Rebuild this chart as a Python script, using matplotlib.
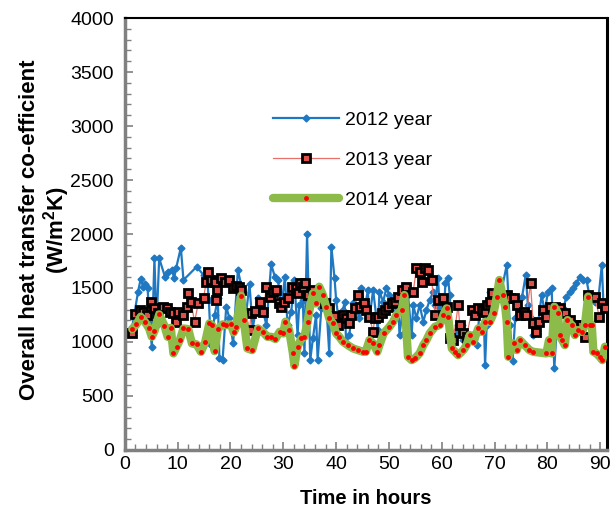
import numpy as np
import matplotlib
matplotlib.use("Agg")
import matplotlib.pyplot as plt
from matplotlib.ticker import MultipleLocator

plt.rcParams['font.family'] = ['Liberation Sans', 'DejaVu Sans']
plt.rcParams['mathtext.fontset'] = 'custom'
plt.rcParams['mathtext.rm'] = 'Liberation Sans'
plt.rcParams['mathtext.bf'] = 'Liberation Sans:bold'

# 2012 year (hours, W/m2K)
h2012 = [1.4, 2.5, 3.0, 3.5, 3.9, 4.3, 4.7, 5.1, 5.6, 6.0, 6.5, 7.6, 8.2, 9.0, 9.3, 9.7,
         10.6, 11.1, 13.6, 14.9, 15.5, 15.9, 16.3, 17.0, 17.6, 17.9, 18.5, 19.2, 19.8, 20.5,
         21.4, 22.3, 23.0, 23.6, 24.2, 25.2, 26.1, 26.8, 27.7, 28.4, 29.0, 29.6, 30.3, 30.8,
         31.5, 32.1, 32.7, 33.0, 33.7, 34.0, 34.5, 35.1, 35.6, 36.2, 36.5, 37.2, 38.1, 38.7,
         39.1, 39.7, 40.0, 40.6, 41.3, 41.6, 41.9, 42.5, 43.2, 43.8, 44.4, 44.8, 45.4, 46.0,
         46.3, 47.0, 47.9, 48.2, 48.9, 49.5, 50.1, 50.8, 51.1, 51.7, 52.0, 52.7, 53.0, 53.6,
         54.3, 54.6, 55.2, 55.8, 56.5, 57.1, 57.7, 58.4, 58.7, 59.3, 59.6, 60.3, 60.7, 61.2,
         61.5, 61.9, 62.5, 63.1, 63.8, 64.1, 64.7, 65.7, 66.6, 67.2, 67.9, 68.2, 68.5, 69.1,
         69.8, 71.0, 72.3, 72.9, 73.4, 73.9, 74.5, 75.2, 75.9, 76.3, 76.8, 77.3, 78.2, 78.9,
         79.5, 80.1, 80.8, 81.3, 82.0, 83.0, 83.6, 84.2, 84.9, 85.5, 86.1, 86.8, 87.4, 88.0,
         89.0, 89.6, 90.3, 90.6]
u2012 = [1141, 1466, 1583, 1512, 1535, 1497, 1188, 956, 1775, 1157, 1775, 1604, 1651, 1666, 1589, 1682,
         1873, 1574, 1697, 1620, 1635, 1388, 971, 1250, 1404, 848, 832, 1327, 1218, 987,
         1666, 1466, 1280, 1535, 1125, 1404, 1296, 1157, 1719, 1604, 1574, 1311, 1600, 1157,
         1280, 1574, 1064, 1342, 1388, 894, 1997, 832, 1033, 1250, 832, 1311, 1373, 894,
         1880, 1589, 1388, 1157, 1296, 1373, 987, 1064, 1357, 1311, 1218, 1497, 1300, 1481,
         1218, 1481, 1110, 1466, 1373, 1497, 1435, 1342, 1218, 1404, 1064, 1342, 1094, 1435,
         1064, 1342, 1218, 1342, 1188, 1296, 1388, 1466, 1342, 1589, 1311, 1218, 1543, 1589,
         1435, 1033, 1094, 1157, 1157, 1017, 1033, 1064, 971, 1296, 1342, 785, 1157, 1466,
         1373, 1404, 1713, 1157, 824, 1218, 1311, 1419, 1620, 1342, 1218, 1064, 1157, 1435,
         1280, 1466, 1497, 755, 1311, 1311, 1419, 1466, 1497, 1543, 1604, 1574, 1574, 1419,
         1373, 1373, 1713, 1357]

# 2013 year
h2013 = [1.4, 1.9, 2.8, 3.5, 4.1, 4.9, 5.6, 6.3, 7.3, 7.9, 8.5, 9.2, 9.6, 10.1, 11.1, 11.7,
         12.0, 12.5, 13.2, 13.9, 14.9, 15.4, 15.8, 16.3, 17.0, 17.3, 17.5, 18.2, 19.0, 19.8,
         20.5, 21.1, 21.7, 22.0, 23.6, 23.9, 24.6, 25.5, 26.2, 26.8, 27.4, 28.0, 28.7, 29.1,
         29.6, 30.2, 30.8, 31.6, 32.4, 32.7, 33.2, 33.7, 34.1, 34.6, 35.6, 36.5, 37.8, 38.7,
         39.6, 40.3, 41.3, 41.9, 42.5, 42.9, 43.5, 44.1, 44.6, 45.3, 45.7, 46.3, 47.0, 47.3,
         47.9, 48.6, 49.2, 49.8, 50.5, 51.1, 51.7, 52.4, 53.3, 54.6, 55.2, 55.8, 56.3, 56.8,
         57.4, 58.1, 58.7, 59.3, 60.3, 60.9, 61.5, 62.2, 63.1, 63.4, 64.1, 64.7, 65.7, 66.3,
         66.9, 67.6, 68.1, 68.5, 69.1, 69.5, 71.4, 72.3, 72.9, 73.6, 74.2, 74.8, 75.5, 76.0,
         76.8, 77.3, 77.9, 78.5, 79.2, 79.8, 80.4, 81.4, 82.3, 83.3, 84.2, 85.2, 86.3, 87.2,
         87.7, 89.0, 89.8, 90.4, 90.9]
u2013 = [1079, 1255, 1296, 1274, 1250, 1367, 1311, 1265, 1327, 1318, 1280, 1265, 1188, 1274, 1250, 1327,
         1450, 1373, 1188, 1357, 1404, 1558, 1651, 1574, 1558, 1388, 1481, 1589, 1558, 1574,
         1497, 1521, 1512, 1481, 1110, 1265, 1287, 1367, 1274, 1512, 1420, 1466, 1481, 1357,
         1327, 1370, 1404, 1512, 1497, 1450, 1543, 1512, 1543, 1435, 1481, 1435, 1357, 1311,
         1243, 1156, 1250, 1218, 1172, 1250, 1311, 1435, 1327, 1365, 1296, 1234, 1094, 1218,
         1234, 1265, 1296, 1327, 1357, 1373, 1419, 1481, 1512, 1466, 1682, 1651, 1558, 1682,
         1666, 1574, 1250, 1388, 1404, 1327, 1033, 1017, 1342, 1157, 1079, 1048, 1296, 1250,
         1311, 1296, 1280, 1342, 1373, 1450, 1419, 1435, 1404, 1404, 1342, 1250, 1280, 1250,
         1543, 1172, 1094, 1188, 1296, 1234, 1327, 1327, 1318, 1265, 1203, 1156, 1156, 1048,
         1435, 1419, 1234, 1357, 1311]

# 2014 year
h2014 = [1.4, 2.2, 3.0, 3.8, 4.6, 5.1, 5.6, 6.5, 7.5, 8.1, 8.7, 9.2, 9.8, 10.4, 11.1, 12.0,
         12.7, 13.6, 14.4, 15.2, 16.0, 16.5, 17.0, 17.6, 18.5, 19.2, 20.1, 20.6, 21.1, 22.0,
         22.5, 23.2, 24.1, 25.2, 26.1, 27.0, 27.7, 28.5, 29.3, 30.0, 30.4, 31.1, 31.8, 32.1,
         32.7, 33.4, 34.0, 34.6, 34.9, 35.6, 36.2, 36.8, 37.5, 38.1, 38.7, 39.4, 40.0, 40.6,
         41.3, 42.2, 43.2, 44.1, 45.1, 45.6, 46.3, 47.0, 47.8, 48.2, 49.0, 50.1, 50.8, 51.4,
         52.4, 52.9, 53.6, 54.3, 54.9, 55.8, 56.5, 57.1, 57.7, 58.7, 59.6, 60.3, 60.9, 61.2,
         61.9, 62.5, 63.1, 64.1, 64.7, 65.3, 66.0, 66.9, 67.6, 68.2, 69.1, 69.8, 70.4, 70.9,
         71.5, 72.0, 72.3, 72.6, 73.6, 74.2, 74.8, 75.7, 76.6, 77.3, 79.8, 80.3, 80.8, 81.3,
         82.0, 82.3, 82.8, 83.3, 83.8, 84.6, 85.2, 85.8, 86.5, 87.1, 87.7, 88.0, 88.4, 88.7,
         89.3, 89.9, 90.4, 90.9]
u2014 = [1119, 1163, 1234, 1187, 1125, 1048, 1100, 1255, 1150, 1048, 1131, 894, 956, 1017, 1125, 1119,
         987, 977, 909, 996, 1172, 1157, 915, 1119, 1163, 1156, 1163, 1088, 1141, 1428,
         1203, 940, 925, 1125, 1094, 1048, 1048, 1027, 1094, 1079, 1188, 1110, 900, 780,
         956, 1033, 1048, 1188, 1280, 1450, 1357, 1512, 1435, 1327, 1218, 1172, 1079, 1048,
         1002, 971, 940, 925, 909, 909, 1017, 987, 909, 971, 1080, 1141, 1188, 1250,
         1296, 1435, 863, 832, 848, 894, 971, 1017, 1079, 1141, 1157, 1250, 1311, 1234,
         940, 909, 878, 925, 971, 1064, 1002, 1125, 1094, 1187, 1187, 1265, 1420, 1574,
         1435, 1327, 1188, 863, 987, 925, 1017, 971, 925, 909, 894, 1017, 894, 1327,
         1265, 1064, 1017, 971, 1203, 1156, 1064, 1110, 1094, 1156, 1420, 1156, 1156, 909,
         894, 863, 832, 956]

fig = plt.figure(figsize=(6.12, 5.16), dpi=100)
ax = fig.add_axes([0.204, 0.128, 0.788, 0.837])

ax.plot(h2012, u2012, color='#1f78c1', lw=1.6, marker='D', ms=3.5,
        label='2012 year', zorder=2)
ax.plot(h2013, u2013, color='#e8706a', lw=0.9, marker='s', ms=5.5,
        mfc='#e0504a', mec='black', mew=2.0, label='2013 year', zorder=3)
ax.plot(h2014, u2014, color='#8dbb4a', lw=6, marker='o', ms=3.5,
        mfc='red', mec='red', mew=0, solid_capstyle='round',
        solid_joinstyle='round', label='2014 year', zorder=4)

ax.set_xlim(0, 91.3)
ax.set_ylim(0, 4000)
ax.xaxis.set_major_locator(MultipleLocator(10))
ax.yaxis.set_major_locator(MultipleLocator(500))
ax.yaxis.set_minor_locator(MultipleLocator(100))
ax.xaxis.set_minor_locator(MultipleLocator(2))
ax.tick_params(axis='both', which='both', direction='in', labelsize=14,
               color='#808080')
ax.tick_params(axis='y', which='major', length=6, width=1.2, pad=8)
ax.tick_params(axis='y', which='minor', length=4, width=1.0)
ax.tick_params(axis='x', which='major', length=6, width=1.2, pad=4)
ax.tick_params(axis='x', which='minor', length=4, width=1.0)

for side in ['left', 'bottom']:
    ax.spines[side].set_color('#808080')
    ax.spines[side].set_linewidth(2.5)
ax.spines['top'].set_color('black')
ax.spines['top'].set_linewidth(1.5)
ax.spines['right'].set_color('black')
ax.spines['right'].set_linewidth(2.2)

ax.set_xlabel('Time in hours', fontsize=14.5, fontweight='bold', labelpad=12)
ax.set_ylabel('Overall heat transfer co-efficient\n(W/m$^{\\mathbf{2}}$K)',
              fontsize=16, fontweight='bold', linespacing=1.05)
ax.yaxis.set_label_coords(-0.11, 0.509)

ax.legend(loc='upper left', bbox_to_anchor=(0.27, 0.825), frameon=False,
          fontsize=14, handlelength=3.4, labelspacing=1.15, handletextpad=0.3)

fig.savefig('out.png', dpi=100)
